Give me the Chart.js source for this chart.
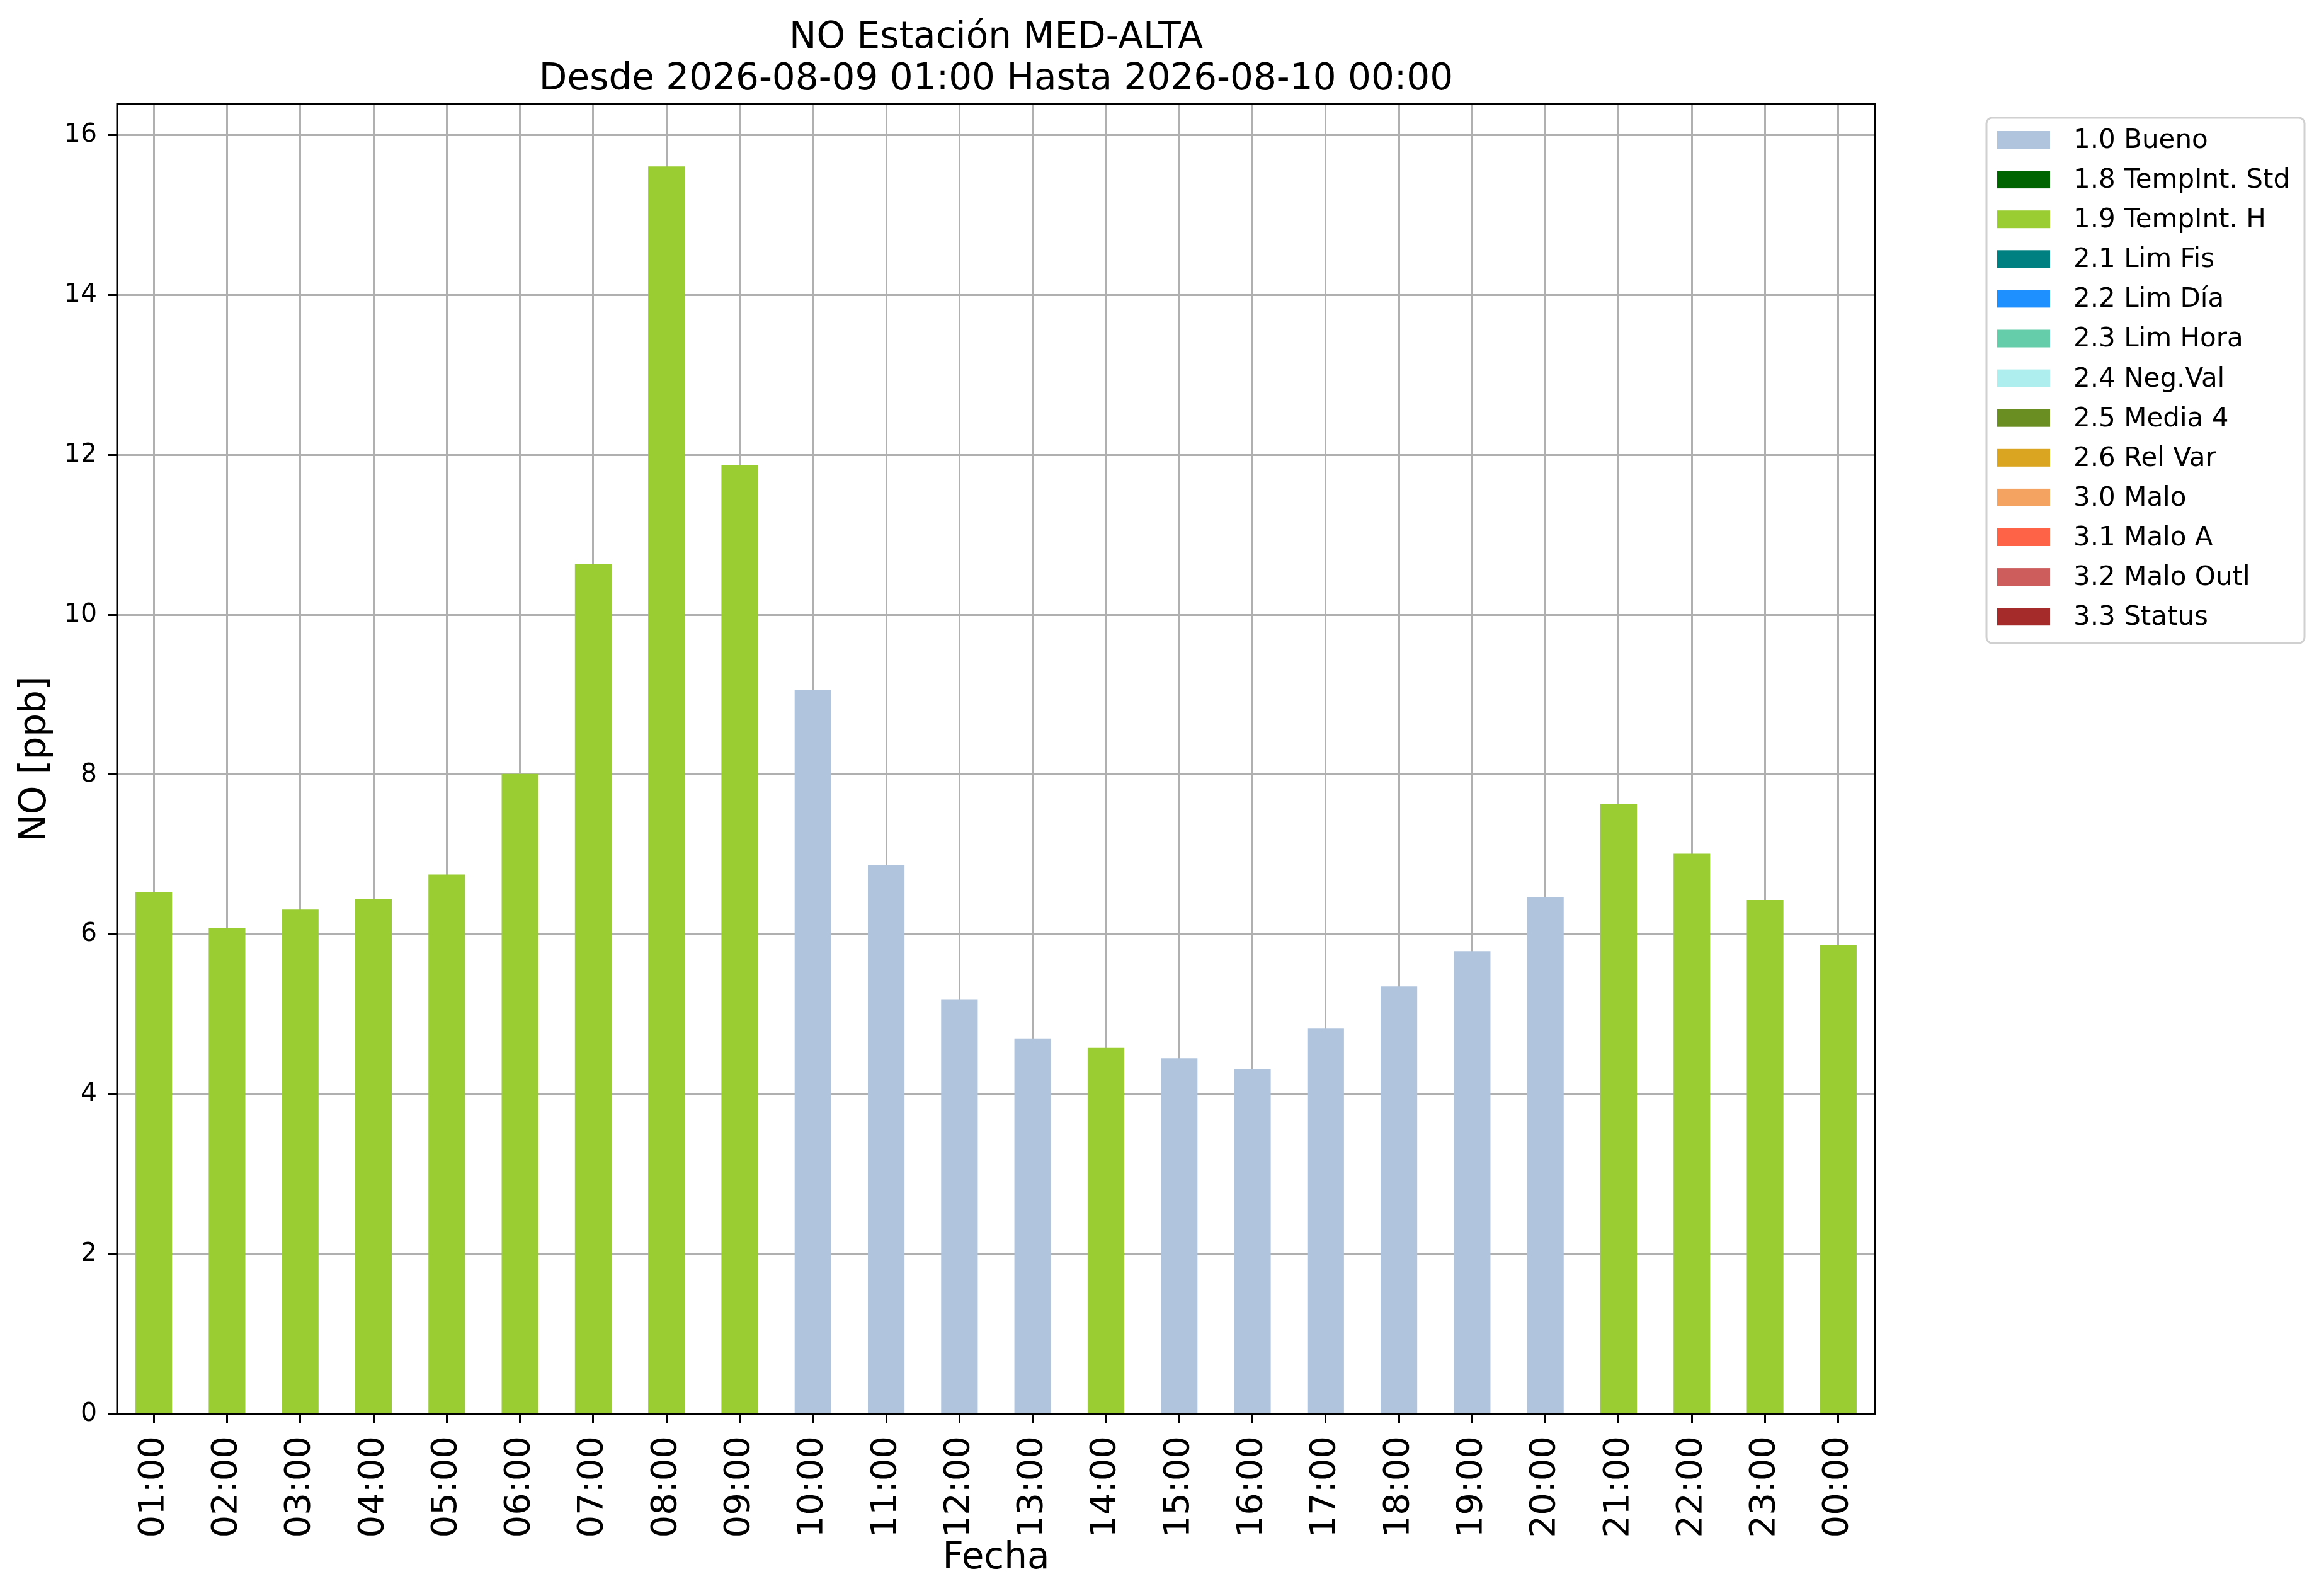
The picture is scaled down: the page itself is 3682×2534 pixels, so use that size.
<!DOCTYPE html>
<html lang="es">
<head>
    <meta charset="UTF-8">
    <title>NO Estación MED-ALTA</title>
    <script src="https://cdn.jsdelivr.net/npm/chart.js"></script>
    <style>
        html, body { margin: 0; padding: 0; background: #fff; }
    </style>
</head>
<body>
    <canvas id="grafico" width="3682" height="2534"></canvas>

    <script>
        // Datos horarios de NO [ppb]
        const horas = ['01:00', '02:00', '03:00', '04:00', '05:00', '06:00', '07:00', '08:00',
                       '09:00', '10:00', '11:00', '12:00', '13:00', '14:00', '15:00', '16:00',
                       '17:00', '18:00', '19:00', '20:00', '21:00', '22:00', '23:00', '00:00'];
        const valores = [6.53, 6.08, 6.31, 6.44, 6.75, 8.01, 10.64, 15.61,
                         11.87, 9.06, 6.87, 5.19, 4.70, 4.58, 4.45, 4.31,
                         4.83, 5.35, 5.79, 6.47, 7.63, 7.01, 6.43, 5.87];
        const banderas = ['1.9', '1.9', '1.9', '1.9', '1.9', '1.9', '1.9', '1.9',
                          '1.9', '1.0', '1.0', '1.0', '1.0', '1.9', '1.0', '1.0',
                          '1.0', '1.0', '1.0', '1.0', '1.9', '1.9', '1.9', '1.9'];

        // Leyenda de banderas de calidad
        const codigos = ['1.0', '1.8', '1.9', '2.1', '2.2', '2.3', '2.4', '2.5', '2.6', '3.0', '3.1', '3.2', '3.3'];
        const nombres = ['1.0 Bueno', '1.8 TempInt. Std', '1.9 TempInt. H', '2.1 Lim Fis', '2.2 Lim Día',
                         '2.3 Lim Hora', '2.4 Neg.Val', '2.5 Media 4', '2.6 Rel Var', '3.0 Malo',
                         '3.1 Malo A', '3.2 Malo Outl', '3.3 Status'];
        const colores = ['#b0c4de', '#006400', '#9acd32', '#008080', '#1e90ff', '#66cdaa', '#afeeee',
                         '#6b8e23', '#daa520', '#f4a460', '#ff6347', '#cd5c5c', '#a52a2a'];

        const yTicks = [0, 2, 4, 6, 8, 10, 12, 14, 16];
        const yMax = Math.max(...valores) * 1.05;

        const FUENTE = "'DejaVu Sans', sans-serif";

        // color de cada barra según su bandera
        const coloresBarras = banderas.map(b => colores[codigos.indexOf(b)]);

        // marco de los ejes y leyenda a la derecha
        const marcoYLeyenda = {
            id: 'marcoYLeyenda',
            afterDraw(chart) {
                const { ctx, chartArea: a } = chart;
                ctx.save();
                ctx.strokeStyle = '#000';
                ctx.lineWidth = 3;
                ctx.strokeRect(a.left, a.top, a.right - a.left, a.bottom - a.top);

                // caja de la leyenda
                const bx = 3154, by = 187, bw = 505, bh = 834, r = 9;
                ctx.fillStyle = 'rgba(255,255,255,0.8)';
                ctx.strokeStyle = '#d0d0d0';
                ctx.lineWidth = 3;
                ctx.beginPath();
                ctx.moveTo(bx + r, by);
                ctx.arcTo(bx + bw, by, bx + bw, by + bh, r);
                ctx.arcTo(bx + bw, by + bh, bx, by + bh, r);
                ctx.arcTo(bx, by + bh, bx, by, r);
                ctx.arcTo(bx, by, bx + bw, by, r);
                ctx.closePath();
                ctx.fill();
                ctx.stroke();

                ctx.font = '42px ' + FUENTE;
                ctx.textBaseline = 'middle';
                ctx.textAlign = 'left';
                nombres.forEach((n, i) => {
                    const yc = 222 + i * 63.1;
                    ctx.fillStyle = colores[i];
                    ctx.fillRect(3171, yc - 14, 84, 28);
                    ctx.fillStyle = '#000';
                    ctx.fillText(n, 3292, yc + 2);
                });
                ctx.restore();
            }
        };

        const ctx = document.getElementById('grafico').getContext('2d');
        const grafico = new Chart(ctx, {
            type: 'bar',
            data: {
                labels: horas,
                datasets: [{
                    label: 'NO',
                    data: valores,
                    backgroundColor: coloresBarras,
                    borderWidth: 0,
                    barPercentage: 0.5,
                    categoryPercentage: 1.0
                }]
            },
            options: {
                responsive: false,
                devicePixelRatio: 1,
                animation: false,
                layout: { padding: { left: 0, right: 705, top: 0, bottom: 0 } },
                plugins: {
                    legend: { display: false },
                    tooltip: { enabled: false },
                    title: {
                        display: true,
                        fullSize: false,
                        text: ['NO Estación MED-ALTA', 'Desde 2026-08-09 01:00 Hasta 2026-08-10 00:00'],
                        color: '#000',
                        font: { family: FUENTE, size: 58, weight: 'normal', lineHeight: 1.14 },
                        padding: { top: 28, bottom: 5 }
                    }
                },
                scales: {
                    x: {
                        z: 1,
                        offset: true,
                        grid: {
                            offset: false,
                            color: '#b0b0b0',
                            lineWidth: 3,
                            drawTicks: true,
                            tickLength: 15,
                            tickColor: '#000',
                            tickWidth: 3
                        },
                        border: { display: true, color: '#000', width: 3 },
                        ticks: {
                            color: '#000',
                            font: { family: FUENTE, size: 56 },
                            minRotation: 90,
                            maxRotation: 90,
                            autoSkip: false,
                            padding: 20
                        },
                        title: {
                            display: true,
                            text: 'Fecha',
                            color: '#000',
                            font: { family: FUENTE, size: 58 },
                            padding: { top: 0, bottom: 24 }
                        },
                        afterFit(scale) { scale.height = 289; }
                    },
                    y: {
                        z: 1,
                        min: 0,
                        max: yMax,
                        afterBuildTicks(scale) {
                            scale.ticks = yTicks.map(v => ({ value: v }));
                        },
                        grid: {
                            color: '#b0b0b0',
                            lineWidth: 3,
                            drawTicks: true,
                            tickLength: 14,
                            tickColor: '#000',
                            tickWidth: 3
                        },
                        border: { display: true, color: '#000', width: 3 },
                        ticks: {
                            color: '#000',
                            font: { family: FUENTE, size: 41 },
                            padding: 18
                        },
                        title: {
                            display: true,
                            text: 'NO [ppb]',
                            color: '#000',
                            font: { family: FUENTE, size: 58 },
                            padding: { top: 22, bottom: 0 }
                        },
                        afterFit(scale) { scale.width = 186; }
                    }
                }
            },
            plugins: [marcoYLeyenda]
        });
    </script>
</body>
</html>
